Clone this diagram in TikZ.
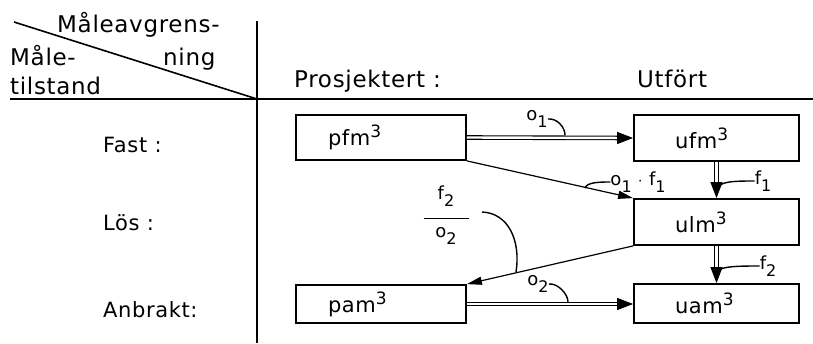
\documentclass[tikz,border=0pt]{standalone}
\usepackage{fontspec}
\setmainfont{DejaVu Sans}[LetterSpace=3]
\usetikzlibrary{arrows.meta,calc}
% large lowered index and raised exponent, as in stencil lettering
\newcommand\idx[1]{\raisebox{-7pt}{\fontsize{16}{16}\selectfont #1}}
\newcommand\cube{\raisebox{8pt}{\fontsize{17}{17}\selectfont 3}}
\begin{document}
\begin{tikzpicture}[x=1pt,y=-1pt,
  every node/.style={inner sep=0pt},
  hdr/.style={anchor=base west,font=\fontsize{23}{26}\selectfont},
  rowlbl/.style={anchor=base west,font=\fontsize{21}{24}\selectfont},
  lbl/.style={font=\fontsize{18}{22}\selectfont},
  lbox/.style={draw,line width=1.8pt,inner xsep=32pt,text width=106pt,align=left,
               font=\fontsize{21}{24}\selectfont},
  rbox/.style={draw,line width=1.8pt,inner xsep=41pt,text width=83pt,align=left,
               font=\fontsize{21}{24}\selectfont},
  rule/.style={line width=1.6pt},
  dbl/.style={double,double distance=2.4pt,line width=1.1pt,shorten >=14pt},
  dtip/.style={line width=1.2pt,-{Triangle[length=16pt,width=12pt]}},
  stip/.style={line width=1.2pt,-{Triangle[length=15pt,width=8pt]}},
  lead/.style={line width=1.4pt}]
\useasboundingbox (0,0) rectangle (813,343);

% table frame
\coordinate (hl) at (10,99);
\coordinate (hr) at (813,99);
\coordinate (vt) at (257,21);
\coordinate (vb) at (257,343);
\coordinate (dg) at (14,22);
\coordinate (cr) at (257,99);
\draw[rule] (hl) -- (hr);
\draw[rule] (vt) -- (vb);
\draw[rule] (dg) -- (cr);

% heading texts
\node[hdr] (h1) at (57,32) {Måleavgrens-};
\node[hdr] (h2) at (163,65) {ning};
\node[hdr] (h3) at (10,65) {Måle-};
\node[hdr] (h4) at (10,94) {tilstand};
\node[hdr] (c1) at (294,87) {Prosjektert :};
\node[hdr] (c2) at (637,87) {Utfört};

% row labels
\node[rowlbl] (r1) at (103,152) {Fast :};
\node[rowlbl] (r2) at (103,230) {Lös :};
\node[rowlbl] (r3) at (103,317) {Anbrakt:};

% quantity boxes
\node[lbox,minimum height=45pt] (pfm) at (381,137.5) {pfm\cube};
\node[rbox,minimum height=46pt] (ufm) at (716.5,138) {ufm\cube};
\node[rbox,minimum height=46pt] (ulm) at (716.5,222) {ulm\cube};
\node[lbox,minimum height=38pt] (pam) at (381,304) {pam\cube};
\node[rbox,minimum height=39pt] (uam) at (716.5,303.5) {uam\cube};

% double conversion arrows
\draw[dbl] (pfm.east) -- (ufm.west);
\draw[dtip] ([xshift=-16pt]ufm.west) -- (ufm.west);
\draw[dbl] (pam.east) -- (pam.east -| uam.west);
\draw[dtip] ([xshift=-16pt]pam.east -| uam.west) -- (pam.east -| uam.west);
\draw[dbl] (ufm.south) -- (ufm.south |- ulm.north);
\draw[dtip] ([yshift=16pt]ufm.south |- ulm.north) -- (ufm.south |- ulm.north);
\draw[dbl] (ufm.south |- ulm.south) -- (ufm.south |- uam.north);
\draw[dtip] ([yshift=16pt]ufm.south |- uam.north) -- (ufm.south |- uam.north);

% single diagonal arrows
\draw[stip] (pfm.south east) -- (ulm.north west);
\draw[stip] (ulm.south west) -- (pam.north east);

% factor labels with leaders
\node[lbl] (o1) at (537,119) {o\idx{1}};
\draw[lead] (o1.east) .. controls +(9,-1) and +(0,-8) .. (565,135);

\node[lbl] (o1f1) at (638,182) {o\idx{1} $\cdot$ f\idx{1}};
\draw[lead] (o1f1.west) .. controls +(-10,0) and +(2,-6) .. (585,188);

\node[lbl] (f1) at (763,181) {f\idx{1}};
\draw[lead] (f1.west) .. controls +(-18,0) and +(0,-8) .. (718,189);

\node[lbl] (f2) at (768,266) {f\idx{2}};
\draw[lead] (f2.west) .. controls +(-18,0) and +(0,-6) .. (718,272);

\node[lbl] (o2) at (538,284) {o\idx{2}};
\draw[lead] (o2.east) .. controls +(9,-1) and +(0,-8) .. (568,302);

\node[lbl,align=center] (fr) at (446,215)
  {f\idx{2}\\[-2pt]\rule{45pt}{1.4pt}\\[-4pt]o\idx{2}};
\draw[lead] (482,212) .. controls (508,213) and (521,240) .. (516,272);
\end{tikzpicture}
\end{document}
